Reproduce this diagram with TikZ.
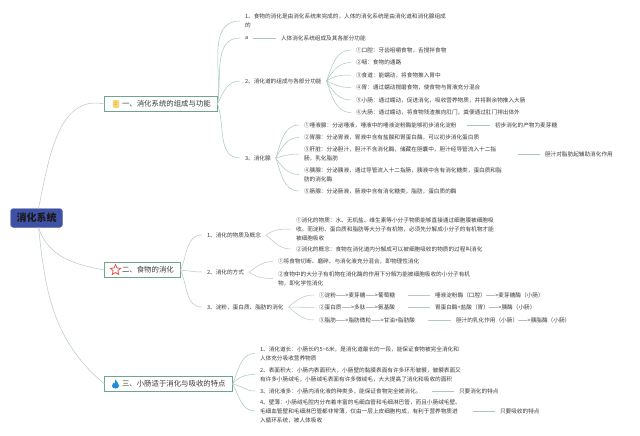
\documentclass[tikz,border=0pt]{standalone}
\usepackage{fontspec}
\setmainfont{Noto Sans CJK SC}
\usetikzlibrary{shapes.geometric}
\definecolor{linkc}{HTML}{A8C8BC}
\definecolor{linkg}{HTML}{B8C8C8}
\definecolor{boxc}{HTML}{6FA58F}
\definecolor{rootc}{HTML}{3F51A5}
\definecolor{txt}{HTML}{3C3C3C}
\definecolor{starc}{HTML}{E2584C}
\definecolor{flamec}{HTML}{1E8CD7}
\definecolor{bookc}{HTML}{F5D76E}
\tikzset{
  leaf/.style={anchor=west,inner xsep=5pt,inner ysep=0pt,outer sep=0pt,align=left,text=txt,font=\fontsize{5.65}{8.9}\selectfont},
  sect/.style={anchor=west,draw=boxc,line width=0.8pt,fill=white,minimum height=14.5pt,inner ysep=0pt,inner xsep=0pt,outer sep=0pt,align=left,text=txt,font=\fontsize{7.4}{9}\selectfont},
  rootbox/.style={rounded corners=3pt,fill=rootc,draw=rootc!80!white,minimum width=52pt,minimum height=19pt,inner sep=0pt,outer sep=0pt,text=black!90,font=\fontsize{10}{12}\selectfont\bfseries},
  conn/.style={draw=linkc,line width=0.5pt},
  conng/.style={draw=linkg,line width=0.5pt}
}
\newcommand{\lnk}[3]{\draw[conn] (#2) to[out=#1,in=180] (#3);}
\newcommand{\lng}[3]{\draw[conng] (#2) to[out=#1,in=180] (#3);}
\begin{document}
\begin{tikzpicture}[x=1pt,y=-1pt]
\useasboundingbox (0,0) rectangle (640,436);
\fill[white] (0,0) rectangle (640,436);
% root and sections
\node[rootbox] (root) at (36.5,218) {消化系统};
\node[sect,text width=113pt] (s1) at (104.5,104) {\hspace*{17.5pt}一、消化系统的组成与功能};
\node[sect,text width=76pt] (s2) at (104.5,270) {\hspace*{17.5pt}二、食物的消化};
\node[sect,text width=128pt] (s3) at (104.5,384) {\hspace*{17.5pt}三、小肠适于消化与吸收的特点};
\draw[conng] (root.north) ++(2,0) coordinate (rt) (rt) to[out=78,in=168] (s1.west);
\draw[conng] (root.south) ++(2,0) coordinate (rb) (rb) to[out=-72,in=170] (s2.west);
\draw[conng] (rb) to[out=-84,in=140] (s3.west);
% icons
\node[inner sep=0pt,fill=bookc,rounded corners=1pt,minimum width=6pt,minimum height=8pt] (ic1) at (116,104) {};
\draw[orange!60,line width=0.3pt] (ic1.north west) ++(1.5,2) -- ++(3,0) ++(-3,2) -- ++(3,0);
\node[star,star points=5,star point ratio=2.2,draw=starc,line width=0.8pt,fill=white,minimum size=11pt,inner sep=0pt] (ic2) at (115.5,270) {};
\fill[flamec] (115.5,379.5) .. controls (116,382) and (119.5,383) .. (119,386) .. controls (118.8,388) and (117,388.5) .. (115.5,388.5) .. controls (113.5,388.5) and (112,387.5) .. (112,385.8) .. controls (112,384.5) and (113,383.5) .. (113.4,382.8) .. controls (113.8,383.5) and (114,383.8) .. (114.4,383.8) .. controls (115,382.5) and (115.4,381) .. (115.5,379.5) -- cycle;
% section 1
\node[leaf] (a1) at (240,21) {1、食物的消化是由消化系统来完成的，人体的消化系统是由消化道和消化腺组成\\的};
\node[leaf] (a2) at (240,38) {a};
\node[leaf] (a2n) at (276,38) {人体消化系统组成及其各部分功能};
\node[leaf] (a3) at (240,81) {2、消化道的组成与各部分功能};
\node[leaf] (a4) at (240,158) {3、消化腺};
\lnk{82}{s1.east}{a1.west}
\lnk{80}{s1.east}{a2.west}
\lnk{65}{s1.east}{a3.west}
\lnk{-70}{s1.east}{a4.west}
\draw[conn] (a2) -- (a2n);
\node[leaf] (b1) at (351,50) {①口腔：牙齿咀嚼食物，舌搅拌食物};
\node[leaf] (b2) at (351,62.5) {②咽：食物的通路};
\node[leaf] (b3) at (351,75) {③食道：能蠕动，将食物推入胃中};
\node[leaf] (b4) at (351,87.5) {④胃：通过蠕动搅磨食物，使食物与胃液充分混合};
\node[leaf] (b5) at (351,100) {⑤小肠：通过蠕动，促进消化，吸收营养物质，并将剩余物推入大肠};
\node[leaf] (b6) at (351,112.5) {⑥大肠：通过蠕动，将食物残渣推向肛门，粪便通过肛门排出体外};
\lnk{70}{a3.east}{b1.west}
\lnk{60}{a3.east}{b2.west}
\lnk{35}{a3.east}{b3.west}
\lnk{-25}{a3.east}{b4.west}
\lnk{-60}{a3.east}{b5.west}
\lnk{-70}{a3.east}{b6.west}
\node[leaf,text width=158pt] (c1) at (299,125) {①唾液腺：分泌唾液，唾液中的唾液淀粉酶能够初步消化淀粉};
\node[leaf] (c1n) at (490,125) {初步消化的产物为麦芽糖};
\node[leaf] (c2) at (299,137.5) {②胃腺：分泌胃液，胃液中含有盐酸和胃蛋白酶，可以初步消化蛋白质};
\node[leaf,text width=209pt] (c3) at (299,154) {③肝脏：分泌胆汁，胆汁不含消化酶，储藏在胆囊中，胆汁经导管流入十二指\\肠，乳化脂肪};
\node[leaf] (c3n) at (540,154) {胆汁对脂肪起辅助消化作用};
\node[leaf] (c4) at (299,174.5) {④胰腺：分泌胰液，通过导管流入十二指肠，胰液中含有消化糖类，蛋白质和脂\\肪的消化酶};
\node[leaf] (c5) at (299,191) {⑤肠腺：分泌肠液，肠液中含有消化糖类，脂肪，蛋白质的酶};
\lnk{70}{a4.east}{c1.west}
\lnk{60}{a4.east}{c2.west}
\lnk{15}{a4.east}{c3.west}
\lnk{-55}{a4.east}{c4.west}
\lnk{-70}{a4.east}{c5.west}
\draw[conn] (c1) -- (c1n);
\draw[conn] (c3) -- (c3n);
% section 2
\node[leaf] (d1) at (202,235) {1、消化的物质及概念};
\node[leaf] (d2) at (202,272) {2、消化的方式};
\node[leaf] (d3) at (202,307) {3、淀粉，蛋白质、脂肪的消化};
\lng{65}{s2.east}{d1.west}
\lng{-5}{s2.east}{d2.west}
\lng{-65}{s2.east}{d3.west}
\node[leaf] (e1) at (291,229) {①消化的物质：水、无机盐、维生素等小分子物质能够直接通过细胞膜被细胞吸\\收。而淀粉、蛋白质和脂肪等大分子有机物，必须先分解成小分子的有机物才能\\被细胞吸收};
\node[leaf] (e2) at (291,249) {②消化的概念：食物在消化道内分解成可以被细胞吸收的物质的过程叫消化};
\lng{35}{d1.east}{e1.west}
\lng{-40}{d1.east}{e2.west}
\node[leaf] (f1) at (273,261.5) {①将食物切断、磨碎、与消化液充分混合，即物理性消化};
\node[leaf] (f2) at (273,278.5) {②食物中的大分子有机物在消化酶的作用下分解为能被细胞吸收的小分子有机\\物，即化学性消化};
\lng{35}{d2.east}{f1.west}
\lng{-35}{d2.east}{f2.west}
\node[leaf,text width=84pt] (g1) at (314,295) {①淀粉——>麦芽糖——>葡萄糖};
\node[leaf] (g1n) at (430,295) {唾液淀粉酶（口腔）——>麦芽糖酶（小肠）};
\node[leaf,text width=84pt] (g2) at (314,307.5) {②蛋白质——>多肽——>氨基酸};
\node[leaf] (g2n) at (430,307.5) {胃蛋白酶+盐酸（胃）——>胰酶（小肠）};
\node[leaf,text width=104pt] (g3) at (314,320) {③脂肪——>脂肪微粒——>甘油+脂肪酸};
\node[leaf] (g3n) at (451,320) {胆汁的乳化作用（小肠）——>胰脂酶（小肠）};
\lng{40}{d3.east}{g1.west}
\lng{0}{d3.east}{g2.west}
\lng{-40}{d3.east}{g3.west}
\draw[conng] (g1) -- (g1n);
\draw[conng] (g2) -- (g2n);
\draw[conng] (g3) -- (g3n);
% section 3
\node[leaf] (h1) at (255,353.5) {1、消化道长：小肠长约5\textasciitilde 6米，是消化道最长的一段，能保证食物被完全消化和\\人体充分吸收营养物质};
\node[leaf] (h2) at (255,374.5) {2、表面积大：小肠内表面积大，小肠壁的黏膜表面有许多环形皱襞，皱襞表面又\\有许多小肠绒毛，小肠绒毛表面有许多微绒毛，大大提高了消化和吸收的面积};
\node[leaf,text width=167pt] (h3) at (255,391) {3、消化液多：小肠内消化液的种类多，能保证食物完全被消化。};
\node[leaf] (h3n) at (454,391) {只要消化的特点};
\node[leaf,text width=208pt] (h4) at (255,411) {4、壁薄：小肠绒毛腔内分布着丰富的毛细血管和毛细淋巴管，而且小肠绒毛壁、\\毛细血管壁和毛细淋巴管都非常薄，仅由一层上皮细胞构成，有利于营养物质进\\入循环系统，被人体吸收};
\node[leaf] (h4n) at (495,411) {只要吸收的特点};
\lnk{65}{s3.east}{h1.west}
\lnk{50}{s3.east}{h2.west}
\lnk{-10}{s3.east}{h3.west}
\lnk{-60}{s3.east}{h4.west}
\draw[conn] (h3) -- (h3n);
\draw[conn] (h4) -- (h4n);
\end{tikzpicture}
\end{document}
